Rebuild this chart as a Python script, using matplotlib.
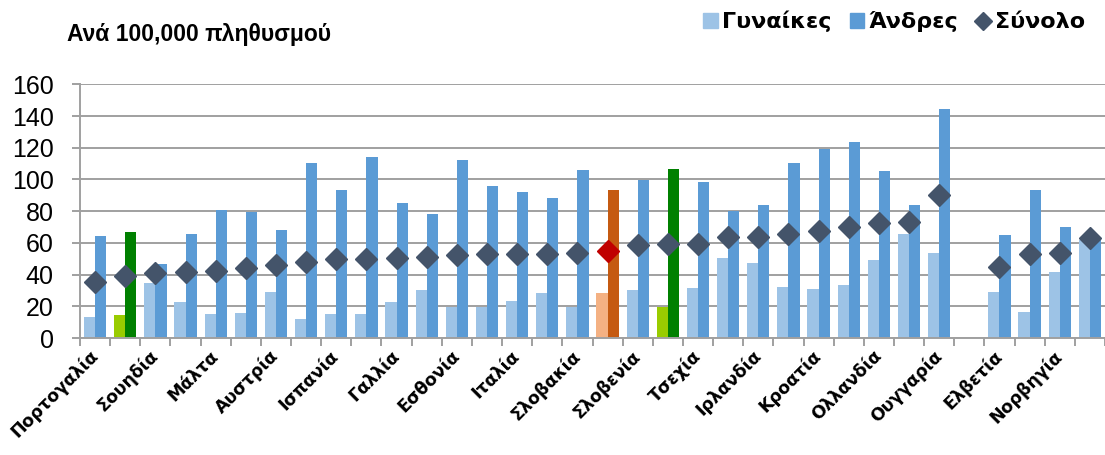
import numpy as np
import matplotlib
matplotlib.use('Agg')
import matplotlib.pyplot as plt
from matplotlib.patches import Patch
from matplotlib.lines import Line2D

nan = np.nan

# categories (only every other one carries a visible label, one blank slot)
labels = ['Πορτογαλία', '', 'Σουηδία', '', 'Μάλτα', '', 'Αυστρία', '',
          'Ισπανία', '', 'Γαλλία', '', 'Εσθονία', '', 'Ιταλία', '',
          'Σλοβακία', '', 'Σλοβενία', '', 'Τσεχία', '', 'Ιρλανδία', '',
          'Κροατία', '', 'Ολλανδία', '', 'Ουγγαρία', '', 'Ελβετία', '',
          'Νορβηγία', '']

women = [13.4, 14.5, 34.9, 22.5, 14.9, 15.6, 29.0, 12.0, 14.9, 15.1,
         22.5, 30.1, 19.8, 19.5, 23.5, 28.6, 19.3, 28.4, 30.1, 19.5,
         31.3, 50.4, 47.5, 32.4, 30.7, 33.2, 49.2, 65.6, 53.8, nan,
         29.0, 16.6, 41.6, 61.8]
men = [64.3, 66.8, 46.9, 65.6, 80.5, 79.6, 67.9, 110.1, 93.3, 113.9,
       85.3, 78.2, 112.2, 95.6, 92.3, 88.3, 106.1, 93.3, 99.6, 106.6,
       98.2, 80.3, 83.9, 110.3, 119.4, 123.8, 105.1, 83.7, 144.6, nan,
       64.7, 93.5, 70.2, 62.8]
total = [35.5, 39.1, 40.8, 41.5, 42.5, 44.1, 46.0, 48.1, 49.8, 49.8,
         50.2, 50.9, 52.5, 52.7, 53.0, 53.2, 53.4, 55.0, 58.8, 59.5,
         59.5, 63.5, 63.5, 65.8, 67.7, 69.8, 72.5, 73.1, 90.2, nan,
         44.6, 52.7, 53.8, 63.3]

green_idx = [1, 19]
orange_idx = [17]

c_women = '#9DC3E6'
c_men = '#5B9BD5'
c_total = '#44546A'

n = len(labels)
x = np.arange(n)
col_w = [c_women] * n
col_m = [c_men] * n
col_t = [c_total] * n
for i in green_idx:
    col_w[i] = '#99CC00'
    col_m[i] = '#008000'
for i in orange_idx:
    col_w[i] = '#F4B183'
    col_m[i] = '#C55A11'
    col_t[i] = '#C00000'

fig = plt.figure(figsize=(11.05, 4.55), dpi=100)
ax = fig.add_axes([80 / 1105, 117 / 455, 1025 / 1105, 253.7 / 455])

w = 0.37
ax.bar(x - w / 2, women, width=w, color=col_w, zorder=2)
ax.bar(x + w / 2, men, width=w, color=col_m, zorder=2)
for i in range(n):
    if not np.isnan(total[i]):
        ax.plot(x[i], total[i], marker='D', markersize=11.5, color=col_t[i],
                linestyle='none', zorder=3)

ax.set_ylim(0, 160)
ax.set_xlim(-0.5, 33.45)
ax.set_yticks(range(0, 161, 20))
ax.yaxis.grid(True, color='#A0A0A0', linewidth=1.4, zorder=0)
ax.set_axisbelow(True)

for s in ['top', 'right']:
    ax.spines[s].set_visible(False)
for s in ['left', 'bottom']:
    ax.spines[s].set_color('#A0A0A0')
    ax.spines[s].set_linewidth(1.4)

ax.tick_params(axis='y', length=6, color='#A0A0A0', width=1.4, pad=13,
               labelsize=18)
for t in ax.get_yticklabels():
    t.set_fontfamily('Liberation Sans')

ax.set_xticks(x)
ax.set_xticklabels(labels, rotation=45, ha='right', va='center',
                   rotation_mode='anchor', fontsize=12.5, fontweight='bold',
                   fontfamily='DejaVu Sans')
ax.tick_params(axis='x', which='major', length=0, pad=11)
ax.set_xticks(np.arange(-0.5, n, 1), minor=True)
ax.tick_params(axis='x', which='minor', length=6, color='#A0A0A0', width=1.4)

fig.text(67 / 1105, 1 - 41.5 / 455, 'Ανά 100,000 πληθυσμού', fontsize=16.5,
         fontweight='bold', fontfamily='Liberation Sans', va='baseline',
         ha='left')

handles = [Patch(color=c_women, label='Γυναίκες'),
           Patch(color=c_men, label='Άνδρες'),
           Line2D([], [], marker='D', color=c_total, linestyle='none',
                  markersize=9, label='Σύνολο')]
fig.legend(handles=handles, loc='upper right', bbox_to_anchor=(1.0, 1.02),
           ncol=3, frameon=False, handlelength=0.65, handleheight=0.65,
           handletextpad=0.2, columnspacing=0.8,
           prop={'family': 'DejaVu Sans', 'weight': 'bold', 'size': 16})

fig.savefig('out.png', dpi=100, facecolor='white')
